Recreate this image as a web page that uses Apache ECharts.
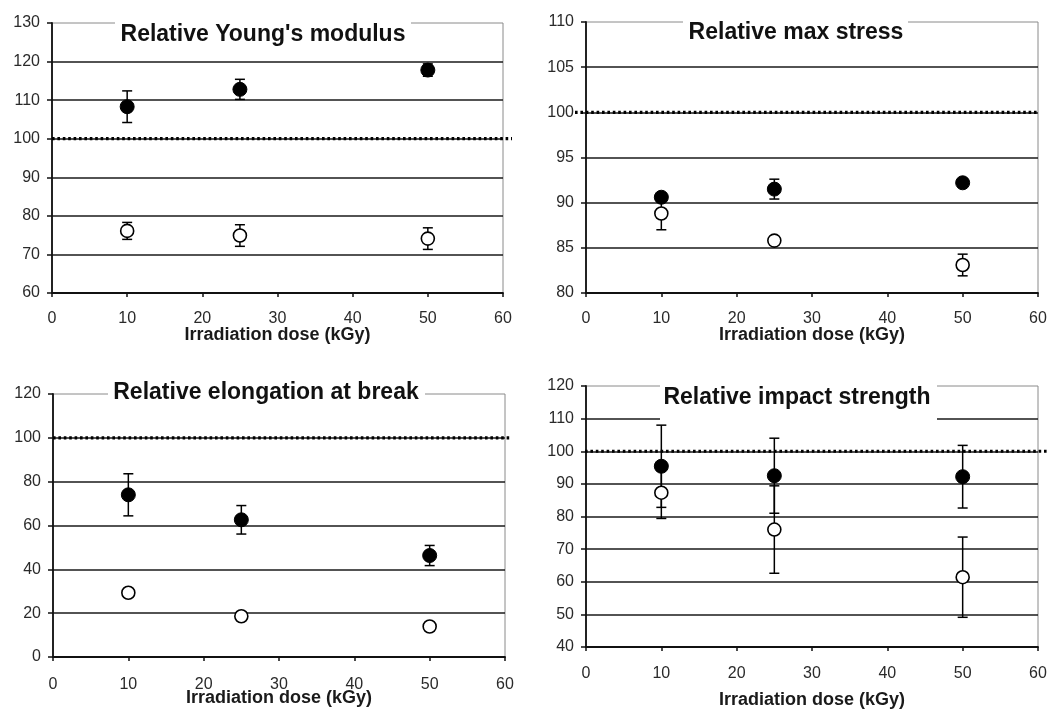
<!DOCTYPE html>
<html>
<head>
<meta charset="utf-8">
<script src="https://cdn.jsdelivr.net/npm/echarts@6/dist/echarts.min.js"></script>
<style>
html,body{margin:0;padding:0;background:#fff;}
#c{width:1051px;height:709px;}
</style>
</head>
<body>
<div id="c"></div>
<script>
// ---- data ----
const doses = [10, 25, 50];

const youngFilled = [108.3, 112.8, 117.8];
const youngFilledErr = [4.1, 2.6, 1.6];
const youngOpen = [76.1, 74.9, 74.1];
const youngOpenErr = [2.2, 2.8, 2.8];

const stressFilled = [90.6, 91.5, 92.2];
const stressFilledErr = [0.4, 1.1, 0.4];
const stressOpen = [88.8, 85.8, 83.1];
const stressOpenErr = [1.8, 0.3, 1.2];

const elongFilled = [74.0, 62.6, 46.3];
const elongFilledErr = [9.6, 6.5, 4.6];
const elongOpen = [29.3, 18.6, 13.9];
const elongOpenErr = [0, 0, 0];

const impactFilled = [95.4, 92.5, 92.2];
const impactFilledErr = [12.6, 11.5, 9.6];
const impactOpen = [87.3, 76.0, 61.4];
const impactOpenErr = [7.9, 13.4, 12.3];

const referenceLevel = 100;
const titles = ["Relative Young's modulus", "Relative max stress", "Relative elongation at break", "Relative impact strength"];
const xName = "Irradiation dose (kGy)";
const xTicks = {min: 0, max: 60, interval: 10};
const yRanges = [
  {min: 60, max: 130, interval: 10},
  {min: 80, max: 110, interval: 5},
  {min: 0, max: 120, interval: 20},
  {min: 40, max: 120, interval: 10}
];

// ---- layout ----
const grids = [
  {left: 52, top: 23, width: 451, height: 270},
  {left: 586, top: 22, width: 452, height: 271},
  {left: 53, top: 394, width: 452, height: 263},
  {left: 586, top: 386, width: 452, height: 261}
];
const labelMargins = [18, 18, 20, 19];
const nameGaps = [33, 33, 32, 44];
const refExt = [[0, 9], [-11, -1], [0, 7], [-1, 9]];
const titleBoxes = [
  {x: 115, y: 10, w: 296, h: 42, cx: 263, cy: 35},
  {x: 683, y: 8, w: 225, h: 42, cx: 796, cy: 33},
  {x: 108, y: 380, w: 317, h: 28, cx: 266, cy: 393},
  {x: 660, y: 376, w: 277, h: 45, cx: 797, cy: 398}
];

const panels = [
  [youngFilled, youngFilledErr, youngOpen, youngOpenErr],
  [stressFilled, stressFilledErr, stressOpen, stressOpenErr],
  [elongFilled, elongFilledErr, elongOpen, elongOpenErr],
  [impactFilled, impactFilledErr, impactOpen, impactOpenErr]
];

function errRender(params, api) {
  const x = api.value(0), lo = api.value(1), hi = api.value(2);
  if (hi - lo <= 0) return null;
  const p1 = api.coord([x, hi]), p2 = api.coord([x, lo]);
  const hw = 5;
  const st = {stroke: '#000', lineWidth: 1.5};
  return {type: 'group', children: [
    {type: 'line', shape: {x1: p1[0], y1: p1[1], x2: p2[0], y2: p2[1]}, style: st},
    {type: 'line', shape: {x1: p1[0] - hw, y1: p1[1], x2: p1[0] + hw, y2: p1[1]}, style: st},
    {type: 'line', shape: {x1: p2[0] - hw, y1: p2[1], x2: p2[0] + hw, y2: p2[1]}, style: st}
  ]};
}

function refRender(i) {
  return function (params, api) {
    const a = api.coord([api.value(0), api.value(1)]);
    const b = api.coord([api.value(2), api.value(1)]);
    return {type: 'line',
      shape: {x1: a[0] + refExt[i][0], y1: a[1], x2: b[0] + refExt[i][1], y2: b[1]},
      style: {stroke: '#000', lineWidth: 3.2, lineDash: [2.6, 2.8]}};
  };
}

const option = {
  animation: false,
  backgroundColor: '#fff',
  textStyle: {fontFamily: 'Liberation Sans, Arial, sans-serif'},
  grid: grids.map(g => Object.assign({show: true, borderColor: '#8a8a8a', borderWidth: 1, backgroundColor: 'transparent',
    containLabel: false, outerBoundsMode: 'none'}, g)),
  xAxis: grids.map((g, i) => ({
    type: 'value', gridIndex: i, min: xTicks.min, max: xTicks.max, interval: xTicks.interval,
    name: xName, nameLocation: 'middle', nameGap: nameGaps[i], nameMoveOverlap: false,
    nameTextStyle: {fontSize: 18, fontWeight: 'bold', color: '#1a1a1a', verticalAlign: 'top'},
    axisLine: {show: true, lineStyle: {color: '#111', width: 1.8}},
    axisTick: {show: true, length: 4, lineStyle: {color: '#111', width: 1.5}},
    axisLabel: {fontSize: 16, color: '#2a2a2a', margin: labelMargins[i]},
    splitLine: {show: false}
  })),
  yAxis: grids.map((g, i) => ({
    type: 'value', gridIndex: i, min: yRanges[i].min, max: yRanges[i].max, interval: yRanges[i].interval,
    axisLine: {show: true, lineStyle: {color: '#111', width: 1.8}},
    axisTick: {show: true, length: 5, lineStyle: {color: '#111', width: 1.5}},
    axisLabel: {fontSize: 16, color: '#2a2a2a', margin: 12},
    splitLine: {show: true, showMinLine: false, showMaxLine: false, lineStyle: {color: '#1a1a1a', width: 1.7}}
  })),
  graphic: titleBoxes.map((b, i) => ({
    type: 'group', z: 100, children: [
      {type: 'rect', shape: {x: b.x, y: b.y, width: b.w, height: b.h}, style: {fill: '#fff'}, z: 100},
      {type: 'text', x: b.cx, y: b.cy, z: 101,
        style: {text: titles[i], fill: '#111', font: 'bold 23px "Liberation Sans", Arial, sans-serif',
          align: 'center', verticalAlign: 'middle'}}
    ]
  })),
  series: []
};

panels.forEach((p, i) => {
  const [f, fe, o, oe] = p;
  option.series.push({
    type: 'custom', xAxisIndex: i, yAxisIndex: i, clip: false, z: 3,
    renderItem: refRender(i), data: [[xTicks.min, referenceLevel, xTicks.max]]
  });
  option.series.push({
    type: 'custom', xAxisIndex: i, yAxisIndex: i, z: 4, renderItem: errRender,
    data: doses.map((d, k) => [d, o[k] - oe[k], o[k] + oe[k]])
  });
  option.series.push({
    type: 'custom', xAxisIndex: i, yAxisIndex: i, z: 4, renderItem: errRender,
    data: doses.map((d, k) => [d, f[k] - fe[k], f[k] + fe[k]])
  });
  option.series.push({
    type: 'scatter', xAxisIndex: i, yAxisIndex: i, z: 5, symbol: 'circle', symbolSize: 13,
    itemStyle: {color: '#fff', borderColor: '#000', borderWidth: 1.6, opacity: 1},
    data: doses.map((d, k) => [d, o[k]])
  });
  option.series.push({
    type: 'scatter', xAxisIndex: i, yAxisIndex: i, z: 6, symbol: 'circle', symbolSize: 14,
    itemStyle: {color: '#000', borderColor: '#000', borderWidth: 1, opacity: 1},
    data: doses.map((d, k) => [d, f[k]])
  });
});

const chart = echarts.init(document.getElementById('c'));
chart.setOption(option);
</script>
</body>
</html>
